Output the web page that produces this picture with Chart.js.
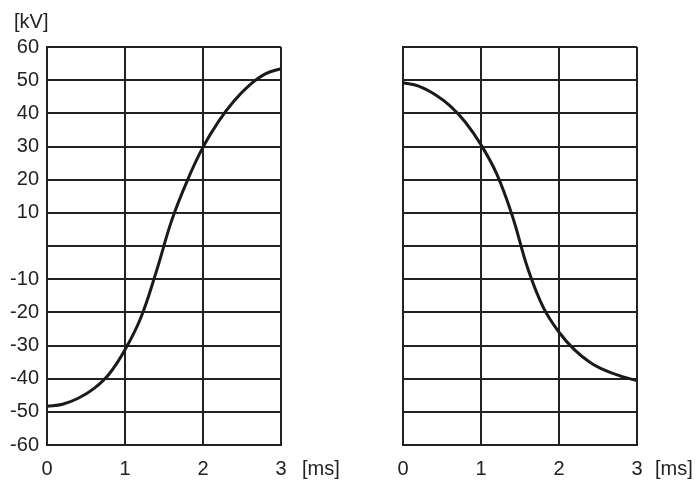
<!DOCTYPE html>
<html>
<head>
<meta charset="utf-8">
<script src="https://cdn.jsdelivr.net/npm/chart.js@4"></script>
<style>
  html, body { margin: 0; padding: 0; background: #fff; }
  #wrap { position: relative; width: 700px; height: 492px; overflow: hidden; background: #fff; }
  canvas { position: absolute; top: 0; }
  .lbl { position: absolute; font-family: "Liberation Sans", Arial, sans-serif; font-size: 20px; color: #222; line-height: 1; white-space: nowrap; }
</style>
</head>
<body>
<div id="wrap">
  <canvas id="c1" width="350" height="492" style="left:0;width:350px;height:492px"></canvas>
  <canvas id="c2" width="350" height="492" style="left:350px;width:350px;height:492px"></canvas>
  <div class="lbl" style="left:14px;top:11px">[kV]</div>
  <div class="lbl" style="left:302px;top:458px">[ms]</div>
  <div class="lbl" style="left:655px;top:458px">[ms]</div>
</div>
<script>
// ---- data ----
const yTickValues = [60, 50, 40, 30, 20, 10, 0, -10, -20, -30, -40, -50, -60];
const yTickLabels = ['60', '50', '40', '30', '20', '10', '', '-10', '-20', '-30', '-40', '-50', '-60'];
const xTickLabels = ['0', '1', '2', '3'];

const timeMs = [0, 0.2, 0.4, 0.6, 0.8, 1.0, 1.2, 1.4, 1.6, 1.8, 2.0, 2.2, 2.4, 2.6, 2.8, 3.0];
const leftKV  = [-48.3, -47.7, -45.9, -43.0, -38.5, -31.3, -21.8, -7.8, 7.8, 19.8, 29.8, 37.6, 43.8, 48.6, 51.9, 53.5];
const rightKV = [49.2, 48.2, 45.8, 42.3, 37.3, 30.5, 21.8, 9.2, -6.8, -18.6, -26.0, -31.3, -35.1, -37.6, -39.3, -40.6];

const FONT = { family: '"Liberation Sans", Arial, sans-serif', size: 20 };
const GRID = '#222';

function makeChart(id, xs, ys, showY, yWidth, padRight) {
  const pts = xs.map((x, i) => ({ x: x, y: ys[i] }));
  return new Chart(document.getElementById(id), {
    type: 'line',
    data: { datasets: [{
      data: pts,
      borderColor: '#1a1a1a',
      borderWidth: 3,
      pointRadius: 0,
      fill: false,
      tension: 0.4
    }] },
    options: {
      responsive: false,
      animation: false,
      events: [],
      layout: { padding: { top: 47, right: padRight, left: 0, bottom: 0 } },
      plugins: { legend: { display: false }, tooltip: { enabled: false } },
      scales: {
        x: {
          type: 'linear', min: 0, max: 3,
          afterBuildTicks: s => { s.ticks = xTickLabels.map((t, i) => ({ value: i })); },
          ticks: { color: '#222', font: FONT, padding: 12, maxRotation: 0,
                   callback: (v) => xTickLabels[v] },
          grid: { color: GRID, lineWidth: 2, drawTicks: false },
          border: { color: GRID, width: 2 },
          afterFit: s => { s.height = 47; }
        },
        y: {
          type: 'linear', min: -60, max: 60,
          afterBuildTicks: s => { s.ticks = yTickValues.map(v => ({ value: v })); },
          ticks: { display: showY, color: '#222', font: FONT, padding: 8,
                   callback: (v) => yTickLabels[yTickValues.indexOf(v)] },
          grid: { color: GRID, lineWidth: 2, drawTicks: false },
          border: { color: GRID, width: 2 },
          afterFit: s => { s.width = yWidth; }
        }
      }
    }
  });
}

makeChart('c1', timeMs, leftKV, true, 47, 69);
makeChart('c2', timeMs, rightKV, false, 53, 63);
</script>
</body>
</html>
